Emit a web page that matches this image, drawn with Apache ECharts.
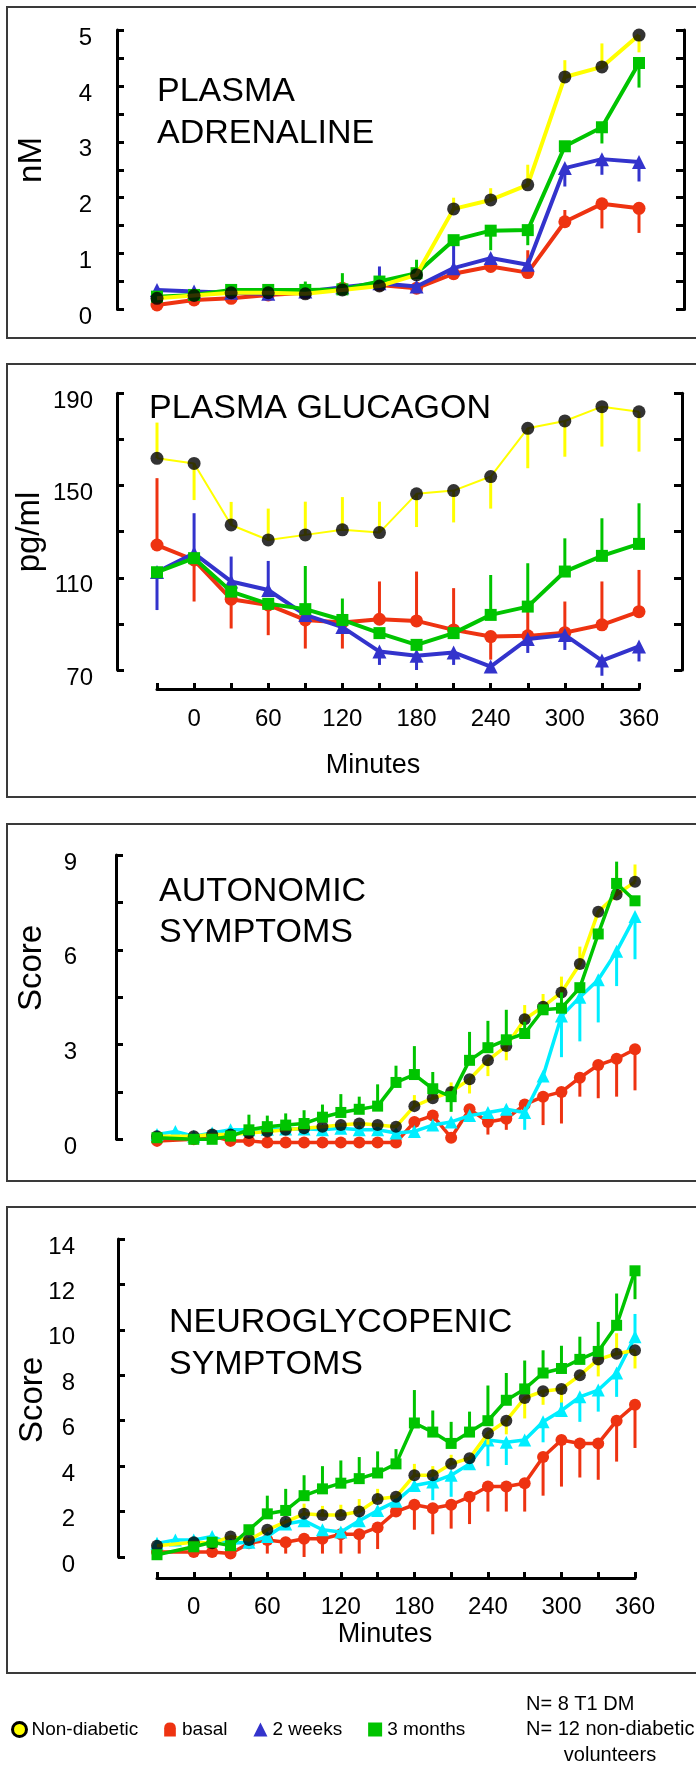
<!DOCTYPE html>
<html>
<head>
<meta charset="utf-8">
<script src="https://cdn.jsdelivr.net/npm/echarts@6/dist/echarts.min.js"></script>
<style>
  html, body { margin: 0; padding: 0; background: #fff; }
  #chart { width: 696px; height: 1768px; }
</style>
</head>
<body>
<div id="chart"></div>
<script>
// time points (minutes)
const times30 = [-30, 0, 30, 60, 90, 120, 150, 180, 210, 240, 270, 300, 330, 360];
const times15 = [-30, -15, 0, 15, 30, 45, 60, 75, 90, 105, 120, 135, 150, 165, 180, 195, 210, 225, 240, 255, 270, 285, 300, 315, 330, 345, 360];
const minuteLabels = [0, 60, 120, 180, 240, 300, 360];

// plasma adrenaline, nM (errors: signed length of the one-sided bar)
const adrNonDiab = [0.2, 0.25, 0.3, 0.3, 0.28, 0.35, 0.42, 0.62, 1.8, 1.96, 2.23, 4.16, 4.34, 4.91];
const adrNonDiabErr = [0, 0, 0, 0, 0, 0, 0, 0, 0.2, 0.21, 0.36, 0.3, 0.42, -0.31];
const adrBasal = [0.08, 0.17, 0.2, 0.26, 0.3, 0.38, 0.44, 0.38, 0.64, 0.77, 0.66, 1.57, 1.89, 1.81];
const adrBasalErr = [0, 0, 0, 0, 0, 0, 0, 0, 0, 0, 0.4, 0.21, -0.44, -0.44];
const adr2wk = [0.35, 0.32, 0.3, 0.28, 0.32, 0.4, 0.47, 0.41, 0.74, 0.92, 0.8, 2.53, 2.69, 2.64];
const adr2wkErr = [0, 0, 0, 0, 0, 0, 0.3, 0, 0.45, 0, 0, -0.33, -0.28, -0.35];
const adr3mo = [0.23, 0.26, 0.35, 0.35, 0.35, 0.36, 0.5, 0.65, 1.24, 1.41, 1.42, 2.92, 3.26, 4.41];
const adr3moErr = [0, 0, 0, 0, 0.15, 0.29, 0, 0.24, 0, -0.35, -0.27, 0, -0.29, -0.44];

// plasma glucagon, pg/ml
const gluNonDiab = [161.8, 159.6, 132.9, 126.4, 128.6, 130.8, 129.6, 146.4, 147.8, 153.9, 174.8, 178, 184.2, 182];
const gluNonDiabErr = [15.5, -15.9, 10, 13.6, 14.4, 14.2, 13.4, -14.4, -13.8, -13.9, -17.3, -15.5, -17.3, -17.3];
const gluBasal = [124.2, 117.7, 100.7, 98.2, 91.7, 90.6, 92, 91.3, 87.4, 84.5, 84.8, 86.2, 89.6, 95.3];
const gluBasalErr = [29, -18, -12.7, -13.1, -12.4, -11.3, 16.4, 21.4, 18.1, -10, 12, 13.5, 18.8, 18.1];
const glu2wk = [112.5, 120.6, 108.4, 104.7, 93.9, 88.6, 78, 76.2, 77.6, 71.5, 83.4, 85.2, 74.1, 80.2];
const glu2wkErr = [-16.5, 17.4, 10.8, 12.6, 0, 0, -5.8, -6.2, -5.4, 0, -6, -6.5, -6.6, -6.5];
const glu3mo = [112.4, 118.5, 104, 98.7, 96.4, 91.7, 86, 80.9, 86, 93.9, 97.5, 112.7, 119.5, 124.7];
const glu3moErr = [0, 0, 0, 0, 18.7, 9.3, 0, 0, 0, 17.3, 18.8, 14.4, 16.3, 17.6];

// autonomic symptom score
const autNonDiab = [0.1, null, 0.1, 0.15, 0.15, 0.2, 0.25, 0.3, 0.35, 0.4, 0.45, 0.5, 0.45, 0.4, 1.05, 1.3, 1.5, 1.9, 2.5, 2.95, 3.8, 4.2, 4.65, 5.55, 7.2, 7.75, 8.15];
const autNonDiabErr = [0, null, 0, 0, 0, 0, 0, 0, 0, 0, 0, 0, 0, 0, 0.35, 0.3, 0.3, -0.45, -0.5, -0.45, 0.45, 0.4, 0.5, 0.55, 0, 0.9, 0.55];
const autBasal = [-0.05, null, 0, 0.1, -0.05, -0.05, -0.1, -0.1, -0.1, -0.1, -0.1, -0.1, -0.1, -0.1, 0.55, 0.75, 0.05, 0.95, 0.55, 0.65, 1.1, 1.35, 1.5, 1.95, 2.35, 2.55, 2.85];
const autBasalErr = [0, null, 0, 0, 0, 0, 0, 0, 0, 0, 0, 0, 0, 0, -0.3, 0, 0, -0.3, -0.4, -0.35, -0.3, -0.9, -1.0, -0.6, -1.05, -1.2, -1.3];
const aut2wk = [0.15, 0.25, 0.1, 0.2, 0.3, 0.3, 0.32, 0.33, 0.33, 0.3, 0.35, 0.3, 0.3, 0.2, 0.25, 0.45, 0.55, 0.75, 0.85, 0.95, 0.85, 2.0, 3.9, 4.5, 5.05, 5.95, 7.05];
const aut2wkErr = [0, 0, 0, 0, 0, 0, 0, 0, 0, 0, 0, 0, 0, 0, 0, 0, 0, 0, 0, 0, -0.55, 0, -1.3, -1.4, -1.35, -1.1, -1.35];
const aut3mo = [0.05, null, 0, 0, 0.1, 0.3, 0.4, 0.45, 0.5, 0.7, 0.85, 0.95, 1.05, 1.8, 2.05, 1.6, 1.35, 2.5, 2.9, 3.15, 3.35, 4.1, 4.15, 4.8, 6.5, 8.1, 7.55];
const aut3moErr = [0, null, 0, 0, 0, 0.48, 0.35, 0.37, 0.42, 0.4, 0.58, 0.4, 0.69, 0.53, 0.9, 0.53, -0.48, 0.9, 0.85, 0.95, 0.37, 0, 0.5, 0, 0, 0.69, 0];

// neuroglycopenic symptom score
const neuNonDiab = [0.5, null, 0.65, 0.6, 0.9, 0.75, 1.2, 1.55, 1.9, 1.85, 1.85, 2.0, 2.55, 2.65, 3.6, 3.6, 4.1, 4.35, 5.45, 6.0, 7.0, 7.3, 7.4, 8.0, 8.7, 8.95, 9.1];
const neuNonDiabErr = [0, null, 0, 0, 0, 0, 0, 0, 0.45, 0.4, 0.45, 0.55, 0.45, 0, 0.5, 0.4, 0.4, 0, -0.5, -0.6, -0.9, -0.6, -0.6, 0, -0.75, 0.9, -0.8];
const neuBasal = [0.22, null, 0.22, 0.22, 0.15, 0.6, 0.75, 0.65, 0.8, 0.8, 1.0, 1.0, 1.3, 2.0, 2.3, 2.15, 2.3, 2.65, 3.1, 3.1, 3.25, 4.4, 5.15, 5.0, 5.0, 6.0, 6.7];
const neuBasalErr = [0, null, 0, 0, 0, 0, -0.6, -0.5, -0.8, -0.65, -0.85, -0.85, -0.95, 0, -1.1, -1.15, -1.05, -1.2, -1.1, -1.1, -1.25, -1.7, -2.05, -1.5, -1.6, -1.8, -1.9];
const neu2wk = [0.6, 0.75, 0.75, 0.9, 0.6, 0.65, 0.9, 1.45, 1.6, 1.2, 1.1, 1.6, 2.05, 2.45, 3.15, 3.3, 3.6, 4.1, 5.15, 5.05, 5.15, 5.95, 6.45, 7.05, 7.35, 8.1, 9.7];
const neu2wkErr = [0, 0, 0, 0, 0, 0, 0, 0, 0, 0, 0, 0, 0, 0, 0, -0.8, -0.95, 0, -1.15, -1.0, 0, -0.9, 1.0, -1.1, -0.95, -1.05, 1.0];
const neu3mo = [0.1, null, 0.45, 0.65, 0.5, 1.2, 1.9, 2.05, 2.7, 3.0, 3.25, 3.45, 3.7, 4.1, 5.9, 5.5, 5.0, 5.5, 6.0, 6.9, 7.4, 8.1, 8.3, 8.7, 9.05, 10.2, 12.6];
const neu3moErr = [0, null, 0, 0, 0, 0, 0.8, 0.95, 0.9, 1.0, 1.0, 0.95, 0.95, 0.65, 1.45, 0.95, 0.95, 0.9, 1.55, 1.2, 1.25, 1.0, 1.0, 1.0, 1.3, 1.4, -1.25];

const FONT = '"Liberation Sans", Arial, sans-serif';
const YELLOW = '#ffff00', RED = '#ee3311', BLUE = '#3333cc', CYAN = '#00eeff', GREEN = '#00c400';

function pairs(times, vals) {
  return times.map((t, i) => [t, vals[i]]).filter(p => p[1] != null);
}

function errPoints(times, vals, errs) {
  return times.map((t, i) => [t, vals[i], vals[i] + (errs[i] || 0), errs[i]])
    .filter(p => p[1] != null && p[3]);
}

function errRender(color) {
  return function (params, api) {
    const a = api.coord([api.value(0), api.value(1)]);
    const b = api.coord([api.value(0), api.value(2)]);
    return {
      type: 'line',
      shape: { x1: a[0], y1: a[1], x2: b[0], y2: b[1] },
      style: { stroke: color, lineWidth: 3 }
    };
  };
}

// one group = error bars + line (+ black dots for the non-diabetic group)
function group(panel, name, times, vals, errs, opt) {
  const out = [];
  out.push({
    type: 'custom', name: name, xAxisIndex: panel, yAxisIndex: panel, z: opt.z,
    renderItem: errRender(opt.color), encode: { x: 0, y: [1, 2] },
    data: errPoints(times, vals, errs), clip: false, silent: true
  });
  if (opt.dots) {
    out.push({
      type: 'scatter', name: name, xAxisIndex: panel, yAxisIndex: panel, z: opt.z,
      symbol: 'circle', symbolSize: opt.size + 1, itemStyle: { color: '#000' },
      data: pairs(times, vals), clip: false
    });
  }
  out.push({
    type: 'line', name: name, xAxisIndex: panel, yAxisIndex: panel, z: opt.z,
    data: pairs(times, vals), connectNulls: true, clip: false,
    showSymbol: !opt.dots, symbol: opt.symbol, symbolSize: opt.size,
    itemStyle: { color: opt.color }, lineStyle: { color: opt.color, width: opt.width }
  });
  return out;
}

const series = [].concat(
  group(0, 'basal', times30, adrBasal, adrBasalErr, { color: RED, symbol: 'circle', size: 13, width: 4, z: 2 }),
  group(0, '2 weeks', times30, adr2wk, adr2wkErr, { color: BLUE, symbol: 'triangle', size: 14, width: 4, z: 3 }),
  group(0, '3 months', times30, adr3mo, adr3moErr, { color: GREEN, symbol: 'rect', size: 12, width: 4, z: 4 }),
  group(0, 'Non-diabetic', times30, adrNonDiab, adrNonDiabErr, { color: YELLOW, dots: true, size: 12, width: 4, z: 5 }),

  group(1, 'Non-diabetic', times30, gluNonDiab, gluNonDiabErr, { color: YELLOW, dots: true, size: 12, width: 2, z: 2 }),
  group(1, 'basal', times30, gluBasal, gluBasalErr, { color: RED, symbol: 'circle', size: 13, width: 4, z: 3 }),
  group(1, '2 weeks', times30, glu2wk, glu2wkErr, { color: BLUE, symbol: 'triangle', size: 14, width: 4, z: 4 }),
  group(1, '3 months', times30, glu3mo, glu3moErr, { color: GREEN, symbol: 'rect', size: 12, width: 4, z: 5 }),

  group(2, 'basal', times15, autBasal, autBasalErr, { color: RED, symbol: 'circle', size: 12, width: 3.5, z: 2 }),
  group(2, '2 weeks', times15, aut2wk, aut2wkErr, { color: CYAN, symbol: 'triangle', size: 13, width: 3.5, z: 3 }),
  group(2, 'Non-diabetic', times15, autNonDiab, autNonDiabErr, { color: YELLOW, dots: true, size: 11, width: 3.5, z: 4 }),
  group(2, '3 months', times15, aut3mo, aut3moErr, { color: GREEN, symbol: 'rect', size: 11, width: 3.5, z: 5 }),

  group(3, 'basal', times15, neuBasal, neuBasalErr, { color: RED, symbol: 'circle', size: 12, width: 3.5, z: 2 }),
  group(3, '2 weeks', times15, neu2wk, neu2wkErr, { color: CYAN, symbol: 'triangle', size: 13, width: 3.5, z: 3 }),
  group(3, 'Non-diabetic', times15, neuNonDiab, neuNonDiabErr, { color: YELLOW, dots: true, size: 11, width: 3.5, z: 4 }),
  group(3, '3 months', times15, neu3mo, neu3moErr, { color: GREEN, symbol: 'rect', size: 11, width: 3.5, z: 5 })
);

const blackLine = { show: true, onZero: false, lineStyle: { color: '#000', width: 3 } };
const inTick = len => ({ show: true, inside: true, length: len, lineStyle: { color: '#000', width: 3 } });
// labels sit a little below their ticks in the original
const labelStyle = { color: '#000', fontSize: 24, fontFamily: FONT, verticalAlign: 'top', lineHeight: 16 };

function leftAxis(panel, min, max, interval, offset, margin, fmt) {
  return {
    type: 'value', gridIndex: panel, position: 'left', min: min, max: max, interval: interval, offset: offset,
    axisLine: blackLine, axisTick: inTick(7), splitLine: { show: false },
    axisLabel: Object.assign({ margin: margin, formatter: fmt }, labelStyle)
  };
}
function rightAxis(panel, min, max, interval, offset) {
  return {
    type: 'value', gridIndex: panel, position: 'right', min: min, max: max, interval: interval, offset: offset,
    axisLine: blackLine, axisTick: inTick(8), splitLine: { show: false }, axisLabel: { show: false }
  };
}
function timeAxis(panel, show, offset, margin) {
  return {
    type: 'value', gridIndex: panel, position: 'bottom', min: -30, max: 360, interval: 30, show: show, offset: offset,
    axisLine: blackLine, axisTick: inTick(6), splitLine: { show: false },
    axisLabel: {
      color: '#000', fontSize: 24, fontFamily: FONT, margin: margin,
      formatter: v => (minuteLabels.indexOf(v) >= 0 ? String(v) : '')
    }
  };
}

function txt(x, y, text, size, extra) {
  return {
    type: 'text', x: x, y: y, z: 100, silent: true,
    style: Object.assign({ text: text, fill: '#000', fontSize: size, fontFamily: FONT, verticalAlign: 'middle', align: 'left' }, extra || {})
  };
}
function vtxt(x, y, text) {
  return {
    type: 'text', x: x, y: y, rotation: Math.PI / 2, z: 100, silent: true,
    style: { text: text, fill: '#000', fontSize: 33, fontFamily: FONT, verticalAlign: 'middle', align: 'center' }
  };
}
function box(y, h) {
  return {
    type: 'rect', z: 0, silent: true,
    shape: { x: 7, y: y, width: 720, height: h },
    style: { fill: 'none', stroke: '#3a3a3a', lineWidth: 2 }
  };
}

const option = {
  animation: false,
  backgroundColor: '#fff',
  textStyle: { fontFamily: FONT },
  grid: [
    { left: 157, top: 30, width: 482, height: 279.5 },
    { left: 157, top: 393.3, width: 482, height: 276.7 },
    { left: 157, top: 855, width: 478, height: 284.3 },
    { left: 157, top: 1239, width: 478, height: 318 }
  ],
  xAxis: [
    timeAxis(0, false, 0, 18),
    timeAxis(1, true, 19, 18),
    timeAxis(2, false, 0, 18),
    timeAxis(3, true, 21, 17)
  ],
  yAxis: [
    leftAxis(0, 0, 5, 0.5, 40, 25, v => (Number.isInteger(v) ? String(v) : '')),
    leftAxis(1, 70, 190, 20, 40, 24, v => ((v - 70) % 40 === 0 ? String(v) : '')),
    leftAxis(2, 0, 9, 1.5, 41, 39, v => (v % 3 === 0 ? String(v) : '')),
    leftAxis(3, 0, 14, 2, 39, 43, v => String(v)),
    rightAxis(0, 0, 5, 0.5, 45),
    rightAxis(1, 70, 190, 20, 43)
  ],
  legend: {
    left: 6, top: 1715, itemWidth: 14, itemHeight: 14, itemGap: 26,
    textStyle: { fontSize: 19, color: '#000', fontFamily: FONT },
    data: [
      { name: 'Non-diabetic', icon: 'circle', itemStyle: { color: YELLOW, borderColor: '#000', borderWidth: 3 } },
      { name: 'basal', icon: 'path://M0,12 L0,5 Q0,0 5,0 Q10,0 10,5 L10,12 Z', itemStyle: { color: RED } },
      { name: '2 weeks', icon: 'triangle', itemStyle: { color: BLUE } },
      { name: '3 months', icon: 'rect', itemStyle: { color: GREEN } }
    ]
  },
  graphic: [
    box(7, 331), box(364, 433), box(824, 357), box(1207, 466),
    txt(157, 92, 'PLASMA', 34), txt(157, 134, 'ADRENALINE', 34),
    txt(149, 409, 'PLASMA GLUCAGON', 34),
    txt(159, 892, 'AUTONOMIC', 34), txt(159, 933, 'SYMPTOMS', 34),
    txt(169, 1323, 'NEUROGLYCOPENIC', 34), txt(169, 1365, 'SYMPTOMS', 34),
    vtxt(32, 160, 'nM'), vtxt(30, 532, 'pg/ml'), vtxt(32, 968, 'Score'), vtxt(33, 1400, 'Score'),
    txt(373, 766, 'Minutes', 27, { align: 'center' }),
    txt(385, 1635, 'Minutes', 27, { align: 'center' }),
    txt(526, 1704, 'N= 8 T1 DM', 20),
    txt(526, 1729, 'N= 12 non-diabetic', 20),
    txt(610, 1755, 'volunteers', 20, { align: 'center' })
  ],
  series: series
};

const chart = echarts.init(document.getElementById('chart'));
chart.setOption(option);
</script>
</body>
</html>
